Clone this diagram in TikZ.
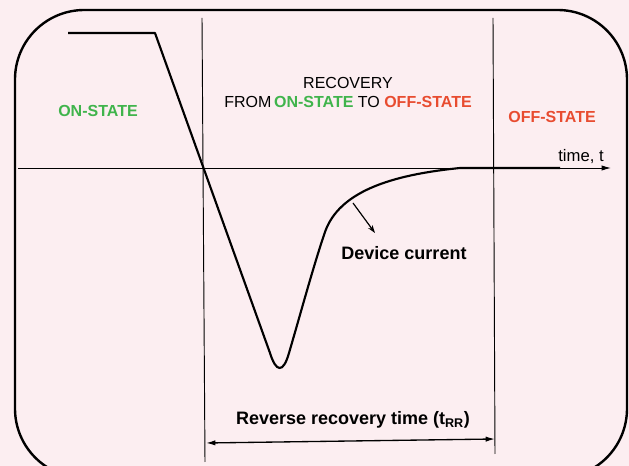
\documentclass[tikz,border=0pt]{standalone}
\usepackage{fontspec}
\setmainfont{Liberation Sans}
\usetikzlibrary{arrows.meta}

\definecolor{bgpink}{RGB}{252,238,241}
\definecolor{ongreen}{RGB}{64,180,76}
\definecolor{offred}{RGB}{232,76,48}

\begin{document}
\begin{tikzpicture}[x=0.75pt,y=-0.75pt,
        thinline/.style={line width=0.7pt},
        curveline/.style={line width=1.6pt, line join=round},
        tiplatex/.style={-{Latex[length=7pt,width=4pt]}},
        txt/.style={font=\fontsize{12}{14}\selectfont, anchor=base, inner sep=0pt},
        boldtxt/.style={txt, font=\fontsize{13.5}{16}\selectfont\bfseries}]
        \useasboundingbox (0,0) rectangle (629,466);
        \clip (0,0) rectangle (629,466);
        \fill[bgpink] (0,0) rectangle (629,466);
        \draw[line width=1.8pt, rounded corners=52pt] (15,10) rectangle (627,478);
        % axis and borders of the three regions
        \coordinate (axisL) at (18,168);
        \coordinate (axisR) at (611,168);
        \coordinate (onTop) at (202,18);
        \coordinate (onBot) at (205,462);
        \coordinate (offTop) at (493,18);
        \coordinate (offBot) at (495,454);
        \draw[thinline, tiplatex] (axisL) -- (axisR);
        \draw[thinline] (onTop) -- (onBot);
        \draw[thinline] (offTop) -- (offBot);
        % device current
        \draw[curveline] (68,33) -- (155,33) -- (270,353) .. controls (276,372) and (283,374) .. (289,353)
            .. controls (301,312) and (314,264) .. (325,232) .. controls (339,192) and (390,175) .. (460,168) -- (560,168);
        % labels
        \node [txt, font=\fontsize{12.5}{14}\selectfont] (timelbl) at (581,162) {time, t};
        \node [txt, font=\fontsize{12}{14}\selectfont\bfseries, text=ongreen] (onstate) at (98,117) {ON-STATE};
        \node [txt, font=\fontsize{12}{14}\selectfont\bfseries, text=offred] (offstate) at (552,123) {OFF-STATE};
        \node [txt] (recov) at (348,89) {RECOVERY};
        \node [txt] (fromto) at (348,108) {FROM\,\textcolor{ongreen}{\bfseries ON-STATE} TO \textcolor{offred}{\bfseries OFF-STATE}};
        \node [boldtxt] (devcur) at (404,260) {Device current};
        \node [boldtxt] (trr) at (353,425) {Reverse recovery time (t\textsubscript{RR})};
        % pointer to the curve and t_RR span
        \coordinate (ptrS) at (353,203);
        \coordinate (ptrE) at (375,233);
        \draw[line width=0.9pt, -{Stealth[length=6pt,width=4pt]}] (ptrS) -- (ptrE);
        \coordinate (trrL) at (206,443);
        \coordinate (trrR) at (495,439);
        \draw[line width=1pt, {Latex[length=7pt,width=4pt]}-{Latex[length=7pt,width=4pt]}] (trrL) -- (trrR);
    \end{tikzpicture}
\end{document}
